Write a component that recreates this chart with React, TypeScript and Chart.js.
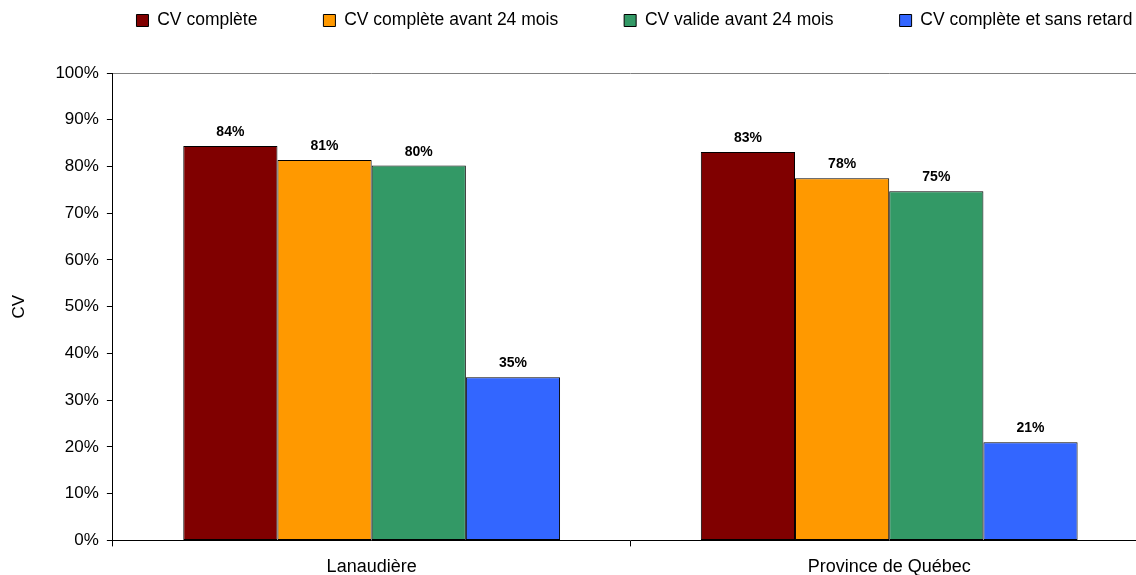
import React, { useEffect, useRef } from "react";
import { Chart, registerables } from "chart.js";

Chart.register(...registerables);

const regions = ["Lanaudière", "Province de Québec"];
const seriesNames = [
  "CV complète",
  "CV complète avant 24 mois",
  "CV valide avant 24 mois",
  "CV complète et sans retard",
];
const cvComplete = [84.4, 83.1];
const cvComplete24 = [81.4, 77.5];
const cvValide24 = [80.2, 74.7];
const cvSansRetard = [34.9, 21.0];
const seriesColors = ["#800000", "#FF9900", "#339966", "#3366FF"];
const yTicks = [0, 10, 20, 30, 40, 50, 60, 70, 80, 90, 100];

const FONT = 'Arial, "Liberation Sans", sans-serif';
const LEGEND_FONT = 17.5;
const LEGEND_PAD = 66;

const valueLabels = {
  id: "valueLabels",
  afterDatasetsDraw(chart: any) {
    const ctx = chart.ctx;
    ctx.save();
    ctx.font = `bold 14px ${FONT}`;
    ctx.fillStyle = "#000";
    ctx.textAlign = "center";
    ctx.textBaseline = "alphabetic";
    chart.data.datasets.forEach((ds: any, i: number) => {
      const meta = chart.getDatasetMeta(i);
      meta.data.forEach((bar: any, j: number) => {
        const v = ds.data[j];
        ctx.fillText(Math.round(v) + "%", bar.x, bar.y - 10);
      });
    });
    ctx.restore();
  },
};

const legendShift = {
  id: "legendShift",
  afterLayout(chart: any) {
    const lg = chart.legend;
    if (!lg) return;
    const ca = chart.chartArea;
    const itemH = Math.max(12, LEGEND_FONT);
    const top = 20.5 - itemH / 2 - LEGEND_PAD;
    lg.top = top;
    lg.bottom = ca.top;
    lg.height = lg.bottom - lg.top;
    const w = lg.right - lg.left;
    const cx = (ca.left + ca.right) / 2 + 4;
    lg.left = cx - w / 2;
    lg.right = cx + w / 2;
  },
};

export default function App() {
  const ref = useRef<HTMLCanvasElement | null>(null);

  useEffect(() => {
    if (!ref.current) return;
    Chart.defaults.font.family = FONT;
    Chart.defaults.color = "#000";
    const values = [cvComplete, cvComplete24, cvValide24, cvSansRetard];
    const chart = new Chart(ref.current, {
      type: "bar",
      data: {
        labels: regions,
        datasets: values.map((d, i) => ({
          label: seriesNames[i],
          data: d,
          backgroundColor: seriesColors[i],
          borderColor: "#000",
          borderWidth: 1,
          borderSkipped: false,
          barPercentage: 1,
          categoryPercentage: 0.728,
        })),
      },
      options: {
        animation: false,
        responsive: false,
        devicePixelRatio: 1,
        layout: { padding: { left: 0, right: 12, top: 0, bottom: -13 } },
        plugins: {
          legend: {
            position: "top",
            maxHeight: 73,
            labels: {
              boxWidth: 12,
              boxHeight: 12,
              padding: LEGEND_PAD,
              color: "#000",
              font: { size: LEGEND_FONT, family: FONT },
            },
          },
          tooltip: { enabled: false },
        },
        scales: {
          x: {
            offset: true,
            grid: {
              offset: true,
              drawOnChartArea: false,
              drawTicks: true,
              tickLength: 6,
              color: "#000",
              tickColor: "#000",
            },
            border: { color: "#000", width: 1 },
            ticks: {
              color: "#000",
              font: { size: 18, family: FONT },
              padding: 10,
            },
          },
          y: {
            min: 0,
            max: 100,
            afterBuildTicks: (scale: any) => {
              scale.ticks = yTicks.map((v) => ({ value: v }));
            },
            grid: {
              color: (ctx: any) =>
                ctx.tick && ctx.tick.value === 100 ? "#808080" : "rgba(0,0,0,0)",
              tickColor: "#000",
              tickLength: 6,
              drawTicks: true,
            },
            border: { color: "#000", width: 1 },
            ticks: {
              color: "#000",
              font: { size: 17, family: FONT },
              padding: 8,
              callback: (v: any) => v + "%",
            },
            title: {
              display: true,
              text: "CV",
              color: "#000",
              font: { size: 17, family: FONT },
              padding: { top: 9, bottom: 18 },
            },
          },
        },
      },
      plugins: [valueLabels, legendShift],
    });
    return () => chart.destroy();
  }, []);

  return (
    <div
      style={{
        position: "fixed",
        left: 0,
        top: 0,
        width: 1136,
        height: 575,
        overflow: "hidden",
        background: "#fff",
      }}
    >
      <canvas
        ref={ref}
        width={1160}
        height={575}
        style={{ width: 1160, height: 575, display: "block" }}
      />
    </div>
  );
}
